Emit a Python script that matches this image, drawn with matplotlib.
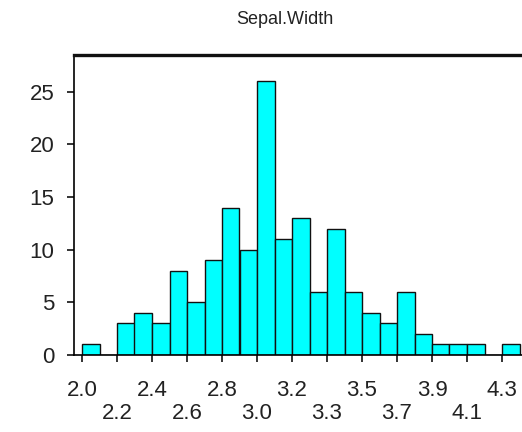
import matplotlib
matplotlib.use("Agg")
from matplotlib import pyplot as plt

# Sepal.Width histogram, bins of 0.1 starting at 2.0
bin_starts = [2.0 + 0.1 * k for k in range(25)]
counts = [1, 0, 3, 4, 3, 8, 5, 9, 14, 10, 26, 11, 13, 6, 12, 6, 4, 3, 6, 2, 1, 1, 1, 0, 1]
tick_pos = [2.0 + 0.2 * k for k in range(13)]
tick_labels = ["2.0", "2.2", "2.4", "2.6", "2.8", "3.0", "3.2",
               "3.3", "3.5", "3.7", "3.9", "4.1", "4.3"]
y_ticks = [0, 5, 10, 15, 20, 25]

plt.rcParams['font.family'] = ['Liberation Sans', 'DejaVu Sans']

fig = plt.figure(figsize=(5.22, 4.32), dpi=100)
ax = fig.add_axes([74 / 522, 1 - 355 / 432, 1 - 74 / 522, (355 - 55) / 432])

ax.bar(bin_starts, counts, width=0.1, align='edge', color='#00FFFF',
       edgecolor='#111111', linewidth=1.0)

ax.set_xlim(2.0 - 8 / 175, 2.0 + 440 / 175)
ax.set_ylim(0, 28.5)

# alternate the labels over two rows
labels = [t if i % 2 == 0 else "\n" + t for i, t in enumerate(tick_labels)]
ax.set_xticks(tick_pos)
ax.set_xticklabels(labels, fontsize=16, color='#222222', linespacing=1.15)
ax.set_yticks(y_ticks)
ax.set_yticklabels([str(v) for v in y_ticks], fontsize=16, color='#222222')
ax.tick_params(axis='x', length=5, width=1.2, pad=13, color='#111111')
ax.tick_params(axis='y', length=5, width=1.2, pad=9, color='#111111')

ax.spines['right'].set_visible(False)
ax.spines['top'].set_linewidth(2.4)
ax.spines['top'].set_color('#111111')
ax.spines['left'].set_linewidth(1.2)
ax.spines['bottom'].set_linewidth(1.2)

fig.text(0.545, 1 - 20 / 432, "Sepal.Width", ha='center', va='center',
         fontsize=13, color='#222222')

fig.savefig("out.png", dpi=100)
